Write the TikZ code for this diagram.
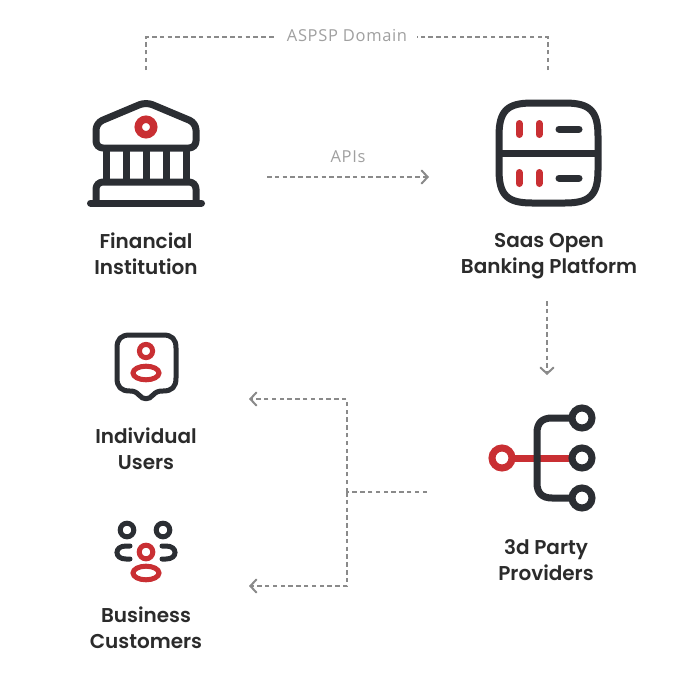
\documentclass[tikz,border=0pt]{standalone}
\usepackage{fontspec}
\setmainfont{Poppins}[BoldFont={Poppins SemiBold}]
\newfontfamily\graytext{Open Sans}[LetterSpace=4]
\usetikzlibrary{arrows.meta}
\definecolor{ink}{HTML}{2B2E33}
\definecolor{accent}{HTML}{C92F33}
\definecolor{dash}{HTML}{8A8A8A}
\definecolor{lbl}{HTML}{2B2B2B}
\definecolor{lightlbl}{HTML}{A0A0A0}
\tikzset{
  darkline/.style={draw=ink,line width=7pt,line cap=round,line join=round},
  redline/.style={draw=accent,line width=7pt,line cap=round,line join=round},
  thinred/.style={draw=accent,line width=5pt},
  thindark/.style={draw=ink,line width=5pt,line cap=round},
  flow/.style={draw=dash,line width=1.8pt,dash pattern=on 4.5pt off 3.3pt},
  flowarrow/.style={flow,-{Straight Barb[length=6pt,width=13pt,line width=2pt,line cap=round,color=dash]}},
  caption/.style={font=\bfseries\fontsize{20}{26}\selectfont,text=lbl,align=center,inner sep=0pt},
  graylabel/.style={font=\graytext\fontsize{16.5}{18}\selectfont,text=lightlbl,inner sep=0pt},
}
\begin{document}
\begin{tikzpicture}[x=1pt,y=-1pt]
\useasboundingbox (0,0) rectangle (680,680);
\fill[white] (0,0) rectangle (680,680);

% anchors of the connectors
\coordinate (fiTop) at (146,70);
\coordinate (fiCorner) at (146,37);
\coordinate (spTop) at (548,70);
\coordinate (spCorner) at (548,37);
\coordinate (domainLeft) at (276,37);
\coordinate (domainRight) at (417,37);
\coordinate (apiStart) at (267,177);
\coordinate (apiEnd) at (429,177);
\coordinate (spBottom) at (547,301);
\coordinate (tppTop) at (547,375);
\coordinate (tppLeft) at (427,492);
\coordinate (junction) at (347,492);
\coordinate (upperCorner) at (347,399);
\coordinate (lowerCorner) at (347,586);
\coordinate (usersRight) at (249,399);
\coordinate (bizRight) at (249,586);

% labels
\node[graylabel] (domain) at (347,36) {ASPSP Domain};
\node[graylabel] (apis) at (348,157) {APIs};
\node[caption] (fi) at (146,254) {Financial\\Institution};
\node[caption] (sp) at (549,256.5) {Saas Open\\Banking Platform};
\node[caption] (iu) at (146,449) {Individual\\Users};
\node[caption] (bc) at (146,628) {Business\\Customers};
\node[caption] (tp) at (546,560) {3d Party\\Providers};

% connectors
\draw[flow] (fiTop) -- (fiCorner) -- (domainLeft);
\draw[flow] (spTop) -- (spCorner) -- (domainRight);
\draw[flowarrow] (apiStart) -- (apiEnd);
\draw[flowarrow] (spBottom) -- (tppTop);
\draw[flow] (tppLeft) -- (junction);
\draw[flowarrow] (junction) -- (upperCorner) -- (usersRight);
\draw[flowarrow] (junction) -- (lowerCorner) -- (bizRight);

% bank icon
\draw[darkline,rounded corners=7pt] (146,102) -- (96,123) -- (96,148) -- (196,148) -- (196,123) -- cycle;
\foreach \cx in {106,126,146,166,186} \draw[darkline,line cap=butt] (\cx,148) -- (\cx,182);
\draw[darkline,rounded corners=7pt] (96,203) -- (96,182) -- (196,182) -- (196,203);
\draw[darkline] (90.5,203) -- (201.5,203);
\draw[accent,line width=7.5pt] (146,127) circle[radius=7.75pt];

% server icon
\draw[darkline] (532,103) -- (565,103) .. controls (590,103) and (598,111) .. (598,136)
  -- (598,170) .. controls (598,195) and (590,203) .. (565,203)
  -- (532,203) .. controls (507,203) and (499,195) .. (499,170)
  -- (499,136) .. controls (499,111) and (507,103) .. (532,103) -- cycle;
\draw[darkline,line cap=butt] (499,153) -- (598,153);
\foreach \cy in {129,178} {
  \draw[redline] (519,\cy-5.5) -- (519,\cy+5.5);
  \draw[redline] (539,\cy-5.5) -- (539,\cy+5.5);
  \draw[darkline] (559,\cy) -- (579,\cy);
}

% individual icon
\draw[draw=ink,line width=5pt,line join=round] (130,335) -- (163,335)
  .. controls (172,335) and (176,339) .. (176,348)
  -- (176,378) .. controls (176,387) and (172,391) .. (163,391)
  .. controls (158,391) and (156,392) .. (153,395)
  .. controls (149,400) and (143,400) .. (139,395)
  .. controls (136,392) and (134,391) .. (130,391)
  .. controls (121,391) and (117,387) .. (117,378)
  -- (117,348) .. controls (117,339) and (121,335) .. (130,335) -- cycle;
\draw[thinred] (146,351) circle[radius=6.6pt];
\draw[thinred] (146,373) ellipse[x radius=13pt,y radius=6.8pt];

% business icon
\draw[draw=ink,line width=5pt] (127,530) circle[radius=6.8pt];
\draw[draw=ink,line width=5pt] (163,530) circle[radius=6.8pt];
\draw[thinred] (146,552) circle[radius=6.8pt];
\draw[thinred] (146,573) ellipse[x radius=13pt,y radius=6.8pt];
\draw[thindark] (130,546) -- (126,546) .. controls (120,546) and (117,549) .. (117,552.5)
  .. controls (117,556) and (120,559) .. (126,559) -- (130,559);
\draw[thindark] (162,546) -- (166,546) .. controls (172,546) and (175,549) .. (175,552.5)
  .. controls (175,556) and (172,559) .. (166,559) -- (162,559);

% tree icon
\draw[redline,line cap=butt] (512,458) -- (572,458);
\draw[accent,line width=7pt] (502,458) circle[radius=10pt];
\draw[darkline,line cap=butt] (572,418) -- (552,418) .. controls (542,418) and (537,423) .. (537,433)
  -- (537,483) .. controls (537,493) and (542,498) .. (552,498) -- (572,498);
\foreach \cy in {418,458,498} \draw[draw=ink,line width=7pt] (582,\cy) circle[radius=10pt];
\end{tikzpicture}
\end{document}
